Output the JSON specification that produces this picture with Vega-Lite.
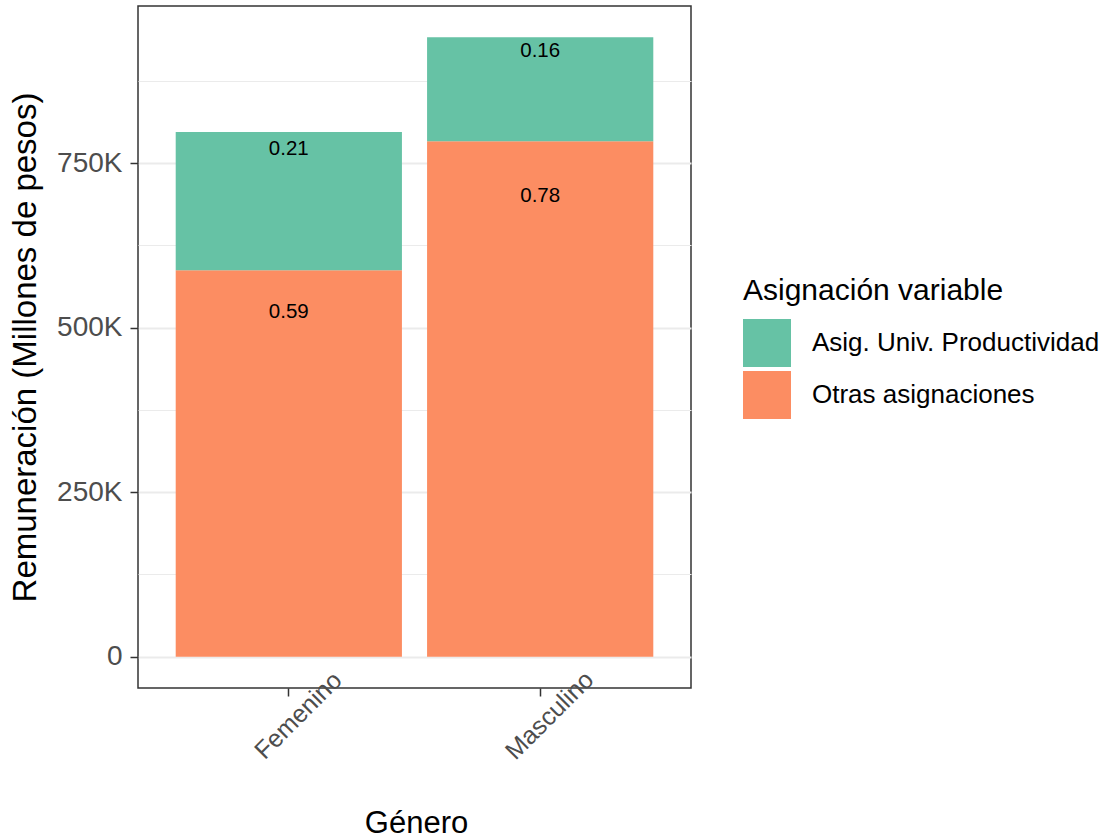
{
  "$schema": "https://vega.github.io/schema/vega-lite/v6.json",
  "width": 553,
  "height": 682,
  "autosize": {"type": "none"},
  "padding": {"left": 138, "top": 6, "right": 413, "bottom": 151},
  "background": "white",
  "config": {
    "font": "Liberation Sans",
    "view": {"stroke": "#333333", "strokeWidth": 1.5}
  },
  "data": {
    "values": [
      {"genero": "Femenino", "asignacion": "Otras asignaciones", "monto": 587000},
      {"genero": "Femenino", "asignacion": "Asig. Univ. Productividad", "monto": 210000},
      {"genero": "Masculino", "asignacion": "Otras asignaciones", "monto": 783000},
      {"genero": "Masculino", "asignacion": "Asig. Univ. Productividad", "monto": 158000}
    ]
  },
  "transform": [
    {"stack": "monto", "groupby": ["genero"], "sort": [{"field": "asignacion", "order": "descending"}], "as": ["y0", "y1"]},
    {"calculate": "datum.y1 - 0.1 * datum.monto", "as": "lab_y"},
    {"calculate": "format(datum.monto / 1000000, '.2f')", "as": "etiqueta"}
  ],
  "encoding": {
    "x": {
      "field": "genero",
      "type": "nominal",
      "scale": {"paddingInner": 0.1, "paddingOuter": 0.15},
      "axis": {
        "title": "Género",
        "titleFontSize": 31,
        "titleFontWeight": "normal",
        "titleColor": "#000000",
        "titleX": 278,
        "titleY": 144,
        "titleBaseline": "alphabetic",
        "titleAlign": "center",
        "domain": false,
        "grid": false,
        "tickSize": 8,
        "tickColor": "#333333",
        "tickWidth": 1.5,
        "labelAngle": -45,
        "labelAlign": "center",
        "labelBaseline": "middle",
        "labelPadding": 19,
        "labelOffset": 9.5,
        "labelFontSize": 25,
        "labelColor": "#4D4D4D",
        "labelBound": false,
        "labelOverlap": false
      }
    }
  },
  "layer": [
    {
      "mark": {"type": "bar"},
      "encoding": {
        "y": {
          "field": "y1",
          "type": "quantitative",
          "scale": {"domain": [-47500, 988500], "nice": false, "zero": false},
          "axis": {
            "title": "Remuneración (Millones de pesos)",
            "titleFontSize": 33,
            "titleFontWeight": "normal",
            "titleColor": "#000000",
            "titleAngle": -90,
            "titleX": -103,
            "titleY": 341,
            "titleBaseline": "alphabetic",
            "titleAlign": "center",
            "titleLimit": 0,
            "domain": false,
            "values": [0, 125000, 250000, 375000, 500000, 625000, 750000, 875000],
            "labelExpr": "datum.value % 250000 === 0 ? (datum.value === 0 ? '0' : (datum.value / 1000) + 'K') : ''",
            "labelFontSize": 28,
            "labelColor": "#4D4D4D",
            "labelPadding": 8,
            "tickSize": 8,
            "tickColor": "#333333",
            "tickWidth": 1.5,
            "tickOpacity": {"condition": {"test": "datum.value % 250000 !== 0", "value": 0}, "value": 1},
            "grid": true,
            "gridColor": "#EBEBEB",
            "gridWidth": {"condition": {"test": "datum.value % 250000 !== 0", "value": 1.2}, "value": 2},
            "labelOverlap": false,
            "labelBound": false
          }
        },
        "y2": {"field": "y0"},
        "color": {
          "field": "asignacion",
          "type": "nominal",
          "scale": {
            "domain": ["Asig. Univ. Productividad", "Otras asignaciones"],
            "range": ["#66C2A5", "#FC8D62"]
          },
          "legend": {
            "title": "Asignación variable",
            "orient": "none",
            "legendX": 605,
            "legendY": 270,
            "direction": "vertical",
            "padding": 0,
            "titleFontSize": 30,
            "titleFontWeight": "normal",
            "titleColor": "#000000",
            "titlePadding": 13,
            "titleLimit": 0,
            "labelFontSize": 26,
            "labelColor": "#000000",
            "labelLimit": 0,
            "labelOffset": 21,
            "symbolType": "square",
            "symbolSize": 2304,
            "symbolStrokeWidth": 0,
            "symbolOpacity": 1,
            "rowPadding": 4
          }
        }
      }
    },
    {
      "mark": {"type": "text", "fontSize": 20.5, "color": "#000000", "baseline": "middle", "align": "center", "dy": 3.5},
      "encoding": {
        "y": {"field": "lab_y", "type": "quantitative"},
        "text": {"field": "etiqueta", "type": "nominal"}
      }
    }
  ]
}
